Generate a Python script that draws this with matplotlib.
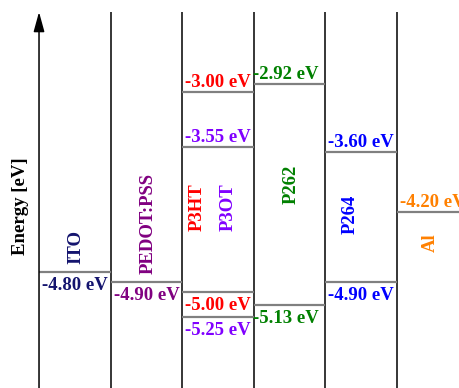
import numpy as np
import matplotlib.pyplot as plt

materials = ['ITO', 'PEDOT:PSS', 'P3HT', 'P3OT', 'P262', 'P264', 'Al']
column = [0, 1, 2, 2, 3, 4, 5]
colors = ['#14146e', '#800080', '#ff0000', '#8000ff', '#008000', '#0000ff', '#ff8000']

# upper levels get their label above the line, lower levels below it
upper = [np.nan, np.nan, -3.00, -3.55, -2.92, -3.60, -4.20]
lower = [-4.80, -4.90, -5.00, -5.25, -5.13, -4.90, np.nan]

# where the rotated material names sit (column units, eV)
name_x = [0.51, 1.53, 2.21, 2.64, 3.52, 4.34, 5.47]
name_y = [-4.55, -4.31, -4.145, -4.145, -3.92, -4.22, -4.51]

top = -2.196
fig = plt.figure(figsize=(4.6, 3.88), dpi=100)
ax = fig.add_axes([0, 0, 1, 1])
ax.set_xlim(-0.545, 5.88)
ax.set_ylim(-5.961, -2.076)
ax.axis('off')

font = dict(family='Liberation Serif', weight='bold', fontsize=13.5)

# energy axis arrow and column separators
ax.annotate('', xy=(0, top), xytext=(0, -5.961),
            arrowprops=dict(arrowstyle='-|>,head_length=0.8,head_width=0.22',
                            mutation_scale=15, lw=1.1, color='black',
                            shrinkA=0, shrinkB=0))
ax.vlines([1, 2, 3, 4, 5], -5.961, top, color='black', lw=1.1)
ax.text(-0.265, -4.14, 'Energy [eV]', rotation=90, ha='center', va='center',
        color='black', **font)

for i, name in enumerate(materials):
    c = column[i]
    cx = c + 0.5 if name != 'P262' else c + 0.45
    for e, dy in ((upper[i], 4.0), (lower[i], -12.8)):
        if np.isnan(e):
            continue
        ax.hlines(e, c, c + 1, color='#808080', lw=1.6)
        ax.annotate(f'{e:.2f} eV', xy=(cx, e), xytext=(0, dy),
                    textcoords='offset points', ha='center', va='baseline',
                    color=colors[i], annotation_clip=False, **font)
    ax.text(name_x[i], name_y[i], name, rotation=90, ha='center', va='center',
            color=colors[i], **font)

plt.savefig('out.png', dpi=100)
